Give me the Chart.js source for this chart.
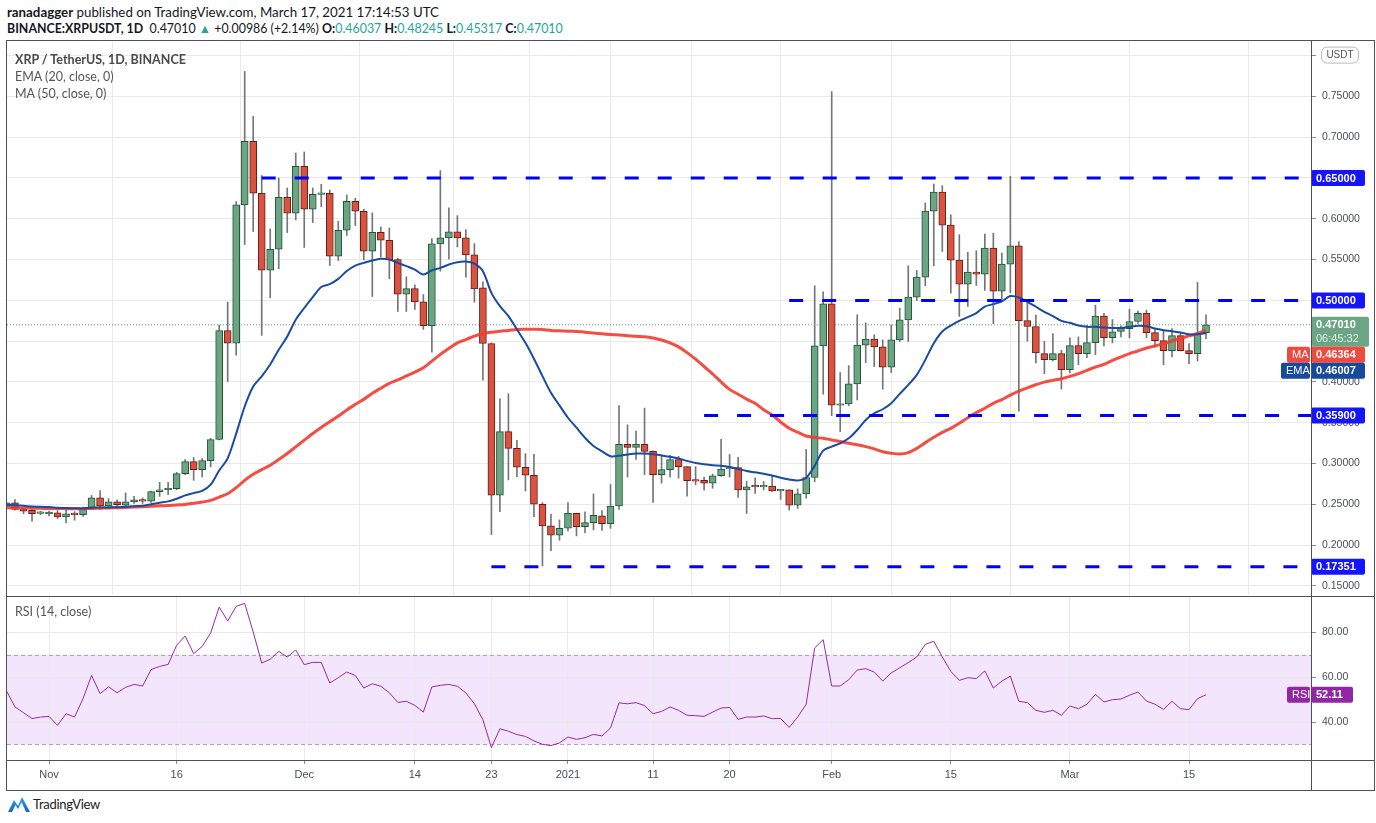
<!DOCTYPE html>
<html>
<head>
<meta charset="utf-8">
<script src="https://cdn.jsdelivr.net/npm/chart.js@4.4.1/dist/chart.umd.min.js"></script>
<style>
  html,body{margin:0;padding:0;background:#fff;}
  body{width:1376px;height:823px;position:relative;overflow:hidden;font-family:Lato,'Open Sans',sans-serif;color:#131722;}
  .t{position:absolute;white-space:nowrap;}
  #h1{left:7px;top:4px;font-size:13.3px;}
  #h2{left:7px;top:21px;font-size:12.4px;}
  .teal{color:#26a69a;}
  canvas{position:absolute;left:0;}
  #cv1{top:40px;}
  #cv2{top:596px;}
  .ln{position:absolute;background:#4d5059;}
  .lg{left:15px;font-size:12.5px;color:#555;}
  #logo{position:absolute;left:7px;top:795px;height:18px;}
  #logotxt{position:absolute;left:33px;top:796px;font-size:13px;color:#222;letter-spacing:-0.3px;}
</style>
</head>
<body>
<div class="t" id="h1"><b>ranadagger</b> published on TradingView.com, March 17, 2021 17:14:53 UTC</div>
<div class="t" id="h2"><b>BINANCE:XRPUSDT, 1D</b>&nbsp; 0.47010 <span class="teal">▲</span> +0.00986 (+2.14%) <b>O:</b><span class="teal">0.46037</span> <b>H:</b><span class="teal">0.48245</span> <b>L:</b><span class="teal">0.45317</span> <b>C:</b><span class="teal">0.47010</span></div>

<canvas id="cv1" width="1376" height="556"></canvas>
<canvas id="cv2" width="1376" height="195"></canvas>

<div class="t lg" style="top:52px;font-weight:bold;color:#4a4a4a;">XRP / TetherUS, 1D, BINANCE</div>
<div class="t lg" style="top:69px;">EMA (20, close, 0)</div>
<div class="t lg" style="top:86px;">MA (50, close, 0)</div>
<div class="t lg" style="top:604px;">RSI (14, close)</div>

<div class="ln" style="left:6px;top:40px;width:1369px;height:1px;"></div>
<div class="ln" style="left:6px;top:40px;width:1px;height:751px;"></div>
<div class="ln" style="left:6px;top:790px;width:1369px;height:1px;"></div>
<div class="ln" style="left:1374px;top:40px;width:1px;height:751px;"></div>
<div class="ln" style="left:1311px;top:40px;width:1px;height:751px;"></div>
<div class="ln" style="left:6px;top:596px;width:1369px;height:1px;"></div>
<div class="ln" style="left:6px;top:760px;width:1369px;height:1px;"></div>

<svg id="logo" width="24" height="18" viewBox="0 0 24 18">
  <defs><linearGradient id="g" x1="0" y1="0" x2="0" y2="1"><stop offset="0" stop-color="#2aa4f4"/><stop offset="1" stop-color="#1565c0"/></linearGradient></defs>
  <path d="M1 17 L7 5 L11 11 L15 2 L23 17 Z M5 17 L8.5 10 L11 14 L14.5 7 L19 17 Z" fill="url(#g)" fill-rule="evenodd"/>
</svg>
<div id="logotxt">TradingView</div>

<script>
// ---- data (day index 0 = 2020-10-27, last = 2021-03-17) ----
const open = [
  0.2475,0.2520,0.2447,0.2426,0.2390,
  0.2385,0.2398,0.2348,0.2393,0.2373,0.2443,0.2580,0.2480,0.2533,0.2492,
  0.2529,0.2557,0.2541,0.2656,0.2680,0.2693,0.2877,0.3025,0.2926,0.3037,
  0.3295,0.4630,0.4477,0.6170,0.6950,0.6313,0.5370,0.5627,0.6264,0.6068,
  0.6643,0.6117,0.6300,0.6313,0.5542,0.5860,0.6215,0.6092,0.5603,0.5835,
  0.5737,0.5500,0.5077,0.5145,0.4982,0.4689,0.5692,0.5766,0.5839,0.5766,
  0.5558,0.5153,0.4472,0.2612,0.3391,0.3187,0.2955,0.2857,0.2502,0.2237,0.2122,
  0.2208,0.2392,0.2228,0.2277,0.2360,0.2265,0.2480,0.3235,0.3198,0.3235,
  0.3149,0.2864,0.2926,0.3050,0.2963,0.2790,0.2794,0.2760,0.2851,0.2934,
  0.2950,0.2678,0.2720,0.2715,0.2723,0.2665,0.2678,0.2492,0.2628,0.2830,0.4443,
  0.4958,0.3715,0.3730,0.3977,0.4451,0.4525,0.4430,0.4181,0.4516,0.4762,
  0.5040,0.5285,0.6095,0.6328,0.5923,0.5494,0.5199,0.5347,0.5322,0.5641,
  0.5113,0.5445,0.5668,0.4753,0.4680,0.4348,0.4274,0.4348,
  0.4151,0.4446,0.4348,0.4483,0.4807,0.4544,0.4620,0.4655,0.4741,0.4840,
  0.4606,0.4507,0.4384,0.4569,0.4384,0.4348,0.46037
];
const high = [
  0.2525,0.2560,0.2455,0.2435,0.2415,
  0.2418,0.2425,0.2435,0.2410,0.2467,0.2610,0.2670,0.2570,0.2557,0.2640,
  0.2598,0.2580,0.2664,0.2770,0.2770,0.2893,0.3050,0.3075,0.3062,0.3310,
  0.4698,0.4980,0.6210,0.7806,0.7255,0.6530,0.5876,0.6500,0.6378,0.6806,
  0.6819,0.6378,0.6423,0.6353,0.5970,0.6292,0.6252,0.6117,0.6072,0.5900,
  0.5888,0.5517,0.5289,0.5190,0.5072,0.5757,0.6590,0.6133,0.6039,0.5868,
  0.5696,0.5227,0.4480,0.3795,0.3856,0.3285,0.3122,0.3114,0.2522,0.2380,0.2310,
  0.2522,0.2392,0.2408,0.2628,0.2425,0.2744,0.3710,0.3475,0.3400,0.3680,
  0.3157,0.3103,0.3100,0.3090,0.2963,0.2963,0.2835,0.2872,0.3297,0.3112,
  0.3078,0.2785,0.2826,0.2780,0.2843,0.2683,0.2678,0.2690,0.3173,0.5179,0.5105,
  0.7560,0.4116,0.4201,0.4823,0.4725,0.4578,0.4516,0.4700,0.4905,0.5424,
  0.5367,0.6193,0.6426,0.6406,0.6050,0.5805,0.5588,0.5608,0.5813,0.5825,
  0.5580,0.6520,0.5721,0.4983,0.4819,0.4499,0.4593,0.4389,
  0.4540,0.4553,0.4696,0.4942,0.4840,0.4766,0.4688,0.4893,0.4868,0.4880,
  0.4647,0.4635,0.4655,0.4602,0.4470,0.5221,0.48245
];
const low = [
  0.2465,0.2430,0.2385,0.2295,0.2375,
  0.2360,0.2324,0.2275,0.2307,0.2352,0.2435,0.2438,0.2455,0.2455,0.2460,
  0.2512,0.2512,0.2525,0.2598,0.2620,0.2680,0.2865,0.2795,0.2836,0.2960,
  0.3290,0.4005,0.4330,0.5684,0.5844,0.4570,0.5032,0.5387,0.5831,0.5986,
  0.5648,0.5954,0.6150,0.5427,0.5489,0.5795,0.5917,0.5497,0.5048,0.5533,
  0.5264,0.4864,0.4864,0.4888,0.4644,0.4366,0.5358,0.5509,0.5655,0.5284,
  0.4978,0.4023,0.2130,0.2412,0.2800,0.2840,0.2665,0.2351,0.1747,0.1934,0.2061,
  0.2175,0.2114,0.2155,0.2187,0.2180,0.2207,0.2438,0.2835,0.3050,0.2864,
  0.2525,0.2760,0.2835,0.2822,0.2600,0.2740,0.2674,0.2698,0.2843,0.2835,
  0.2587,0.2389,0.2636,0.2678,0.2660,0.2562,0.2430,0.2451,0.2575,0.2778,0.3850,
  0.3588,0.3392,0.3710,0.3780,0.4238,0.4189,0.3911,0.4116,0.4496,0.4496,
  0.4999,0.5179,0.5424,0.5600,0.5089,0.4803,0.4925,0.5183,0.5122,0.4713,
  0.4987,0.5094,0.3642,0.4499,0.4233,0.4101,0.4258,0.3913,
  0.4110,0.4212,0.4298,0.4335,0.4442,0.4479,0.4553,0.4540,0.4717,0.4540,
  0.4430,0.4212,0.4307,0.4380,0.4225,0.4257,0.45317
];
const close = [
  0.2520,0.2440,0.2418,0.2385,0.2393,
  0.2400,0.2348,0.2385,0.2373,0.2443,0.2580,0.2480,0.2533,0.2496,0.2533,
  0.2557,0.2541,0.2656,0.2680,0.2693,0.2877,0.3025,0.2926,0.3037,0.3295,
  0.4630,0.4477,0.6170,0.6950,0.6313,0.5370,0.5627,0.6264,0.6068,0.6643,
  0.6117,0.6300,0.6309,0.5542,0.5860,0.6215,0.6092,0.5603,0.5835,0.5737,
  0.5500,0.5077,0.5145,0.4982,0.4689,0.5692,0.5766,0.5839,0.5766,0.5558,
  0.5141,0.4472,0.2612,0.3391,0.3187,0.2955,0.2857,0.2502,0.2237,0.2122,0.2208,
  0.2392,0.2228,0.2277,0.2367,0.2265,0.2480,0.3235,0.3198,0.3235,0.3149,
  0.2864,0.2926,0.3050,0.2963,0.2790,0.2786,0.2760,0.2851,0.2934,0.2950,
  0.2678,0.2715,0.2715,0.2727,0.2665,0.2672,0.2492,0.2628,0.2830,0.4443,0.4958,
  0.3715,0.3730,0.3977,0.4451,0.4525,0.4430,0.4181,0.4516,0.4762,0.5040,
  0.5285,0.6095,0.6328,0.5923,0.5494,0.5199,0.5347,0.5322,0.5641,0.5113,
  0.5445,0.5668,0.4753,0.4680,0.4356,0.4274,0.4348,0.4151,
  0.4446,0.4348,0.4483,0.4807,0.4544,0.4614,0.4659,0.4741,0.4840,0.4606,
  0.4507,0.4384,0.4569,0.4384,0.4348,0.4594,0.47010
];
const ema20 = [
  0.2496,0.2490,0.2482,0.2475,0.2470,
  0.2467,0.2460,0.2455,0.2452,0.2451,0.2463,0.2462,0.2463,0.2466,0.2471,
  0.2478,0.2484,0.2502,0.2520,0.2537,0.2570,0.2610,0.2638,0.2666,0.2742,
  0.2915,0.3065,0.3368,0.3700,0.3945,0.4070,0.4215,0.4394,0.4558,0.4763,
  0.4907,0.5040,0.5165,0.5200,0.5264,0.5360,0.5427,0.5460,0.5490,0.5510,
  0.5500,0.5460,0.5420,0.5378,0.5317,0.5370,0.5398,0.5440,0.5467,0.5476,
  0.5450,0.5358,0.5092,0.4929,0.4807,0.4644,0.4480,0.4285,0.4072,0.3868,0.3713,
  0.3562,0.3440,0.3317,0.3216,0.3150,0.3090,0.3095,0.3111,0.3124,0.3124,
  0.3116,0.3100,0.3083,0.3062,0.3033,0.3008,0.2992,0.2980,0.2975,0.2959,
  0.2934,0.2909,0.2893,0.2876,0.2855,0.2827,0.2806,0.2793,0.2827,0.2975,0.3160,
  0.3208,0.3249,0.3310,0.3412,0.3535,0.3617,0.3666,0.3740,0.3854,0.3964,
  0.4087,0.4271,0.4475,0.4619,0.4692,0.4749,0.4795,0.4844,0.4925,0.4954,
  0.4987,0.5053,0.5036,0.4983,0.4922,0.4860,0.4807,0.4749,
  0.4725,0.4692,0.4676,0.4676,0.4667,0.4663,0.4663,0.4676,0.4688,0.4684,
  0.4655,0.4635,0.4622,0.4606,0.4585,0.4585,0.4601
];
const ma50 = [
  0.2460,0.2458,0.2456,0.2454,0.2452,
  0.2450,0.2449,0.2448,0.2447,0.2447,0.2450,0.2453,0.2456,0.2459,0.2462,
  0.2467,0.2472,0.2477,0.2482,0.2488,0.2494,0.2500,0.2514,0.2529,0.2550,
  0.2590,0.2631,0.2705,0.2795,0.2869,0.2926,0.2980,0.3049,0.3123,0.3205,
  0.3287,0.3369,0.3443,0.3513,0.3582,0.3656,0.3726,0.3787,0.3861,0.3923,
  0.3984,0.4025,0.4074,0.4120,0.4174,0.4255,0.4338,0.4410,0.4480,0.4520,
  0.4562,0.4595,0.4610,0.4623,0.4632,0.4644,0.4646,0.4646,0.4644,0.4631,0.4627,
  0.4623,0.4618,0.4611,0.4600,0.4590,0.4582,0.4575,0.4568,0.4560,0.4555,
  0.4540,0.4515,0.4480,0.4430,0.4360,0.4280,0.4190,0.4100,0.4000,0.3910,
  0.3850,0.3790,0.3740,0.3660,0.3596,0.3510,0.3433,0.3385,0.3338,0.3320,0.3310,
  0.3290,0.3270,0.3249,0.3230,0.3208,0.3180,0.3146,0.3128,0.3117,0.3134,
  0.3187,0.3257,0.3322,0.3383,0.3432,0.3494,0.3563,0.3625,0.3678,0.3739,
  0.3785,0.3840,0.3888,0.3929,0.3966,0.3999,0.4020,0.4040,
  0.4069,0.4102,0.4143,0.4184,0.4216,0.4266,0.4307,0.4348,0.4380,0.4417,
  0.4442,0.4470,0.4503,0.4532,0.4565,0.4594,0.4636
];
const rsi14 = [
  53.8,46.7,44.1,41.5,42.2,
  42.5,38.5,43.7,42.2,50.4,60.7,52.6,55.6,53.0,55.4,
  56.7,56.0,63.3,64.7,65.6,74.1,78.2,70.4,73.6,79.6,
  91.1,84.9,91.4,92.7,80.0,66.2,67.9,71.4,68.9,72.0,
  65.5,66.5,66.5,57.3,59.7,62.2,60.7,55.1,57.0,55.9,
  53.0,48.7,49.2,47.4,44.4,55.6,56.3,56.7,55.9,52.9,
  48.1,41.0,28.6,37.0,35.9,34.4,33.6,31.6,30.1,29.5,30.7,
  33.3,32.3,33.0,34.5,33.8,37.3,48.5,48.1,48.6,47.3,
  43.7,44.7,46.7,45.2,43.0,42.8,42.5,44.4,46.2,46.5,
  41.2,42.2,42.2,42.7,41.5,41.6,37.6,42.2,47.9,72.9,76.6,
  56.0,56.0,58.8,63.1,63.7,62.2,58.2,61.8,64.1,66.4,
  68.9,74.5,75.9,68.9,62.5,58.5,59.7,59.3,62.7,55.1,
  58.2,60.4,49.2,48.6,45.2,44.3,45.2,43.0,
  47.1,45.9,47.9,52.3,48.9,49.9,50.2,51.9,53.3,49.3,
  47.9,45.6,49.2,45.9,45.5,50.4,52.11
];
const tickDays   = [5, 20, 35, 48, 57, 66, 76, 85, 97, 111, 125, 139];
const tickLabels = ['Nov','16','Dec','14','23','2021','11','20','Feb','15','Mar','15'];
const priceTicks = [0.15,0.20,0.25,0.30,0.35,0.40,0.45,0.50,0.55,0.60,0.65,0.70,0.75,0.80];
const rsiTicks   = [40, 60, 80];
const levelValues   = [0.65, 0.50, 0.359, 0.17351];
const levelLabels   = ['0.65000','0.50000','0.35900','0.17351'];
const levelStartDay = [30, 92, 82, 57];
const lastPrice = 0.47010, lastMA = 0.46364, lastEMA = 0.46007, lastRSI = 52.11;
const countdown = '06:45:32';

// ---- view ranges ----
const X_MIN = 0.06, X_MAX = 153.34;
const P_MIN = 0.13897, P_MAX = 0.81789;
const R_MIN = 23.11, R_MAX = 95.56;

const GREEN = '#6ba583', GREEN_B = '#225437', RED = '#d75442', RED_B = '#6b1b16';
const GRID = '#e9e9ea';
const AXFONT = {family: "'Liberation Sans', Arial, sans-serif", size: 10.5};
const AXCOL = '#4a4e59';

function noPad(s) { s.paddingTop = 0; s.paddingBottom = 0; s.paddingLeft = 0; s.paddingRight = 0; }

function roundRect(ctx, x, y, w, h, r) {
  ctx.beginPath();
  ctx.moveTo(x + r, y);
  ctx.lineTo(x + w - r, y); ctx.quadraticCurveTo(x + w, y, x + w, y + r);
  ctx.lineTo(x + w, y + h - r); ctx.quadraticCurveTo(x + w, y + h, x + w - r, y + h);
  ctx.lineTo(x + r, y + h); ctx.quadraticCurveTo(x, y + h, x, y + h - r);
  ctx.lineTo(x, y + r); ctx.quadraticCurveTo(x, y, x + r, y);
  ctx.closePath();
}
function tag(ctx, x0, x1, yc, h, fill, text, col, bold) {
  ctx.save();
  ctx.fillStyle = fill;
  roundRect(ctx, x0, yc - h / 2, x1 - x0, h, 2);
  ctx.fill();
  ctx.fillStyle = col || '#fff';
  ctx.font = (bold === false ? '' : 'bold ') + "11px 'Liberation Sans', Arial, sans-serif";
  ctx.textBaseline = 'middle';
  ctx.textAlign = 'left';
  ctx.fillText(text, x0 + 5, yc + 0.5);
  ctx.restore();
}

const pricePlugin = {
  id: 'priceTags',
  afterDraw(chart) {
    const ctx = chart.ctx, y = chart.scales.y, ax = chart.chartArea.right;
    const yu = y.getPixelForValue(0.80);
    ctx.save();
    ctx.fillStyle = '#fff'; ctx.strokeStyle = '#b8bbc4'; ctx.lineWidth = 1;
    roundRect(ctx, ax + 10.5, yu - 8.5, 37, 16, 6); ctx.fill(); ctx.stroke();
    ctx.fillStyle = '#555'; ctx.font = "10px 'Liberation Sans', Arial, sans-serif";
    ctx.textAlign = 'center'; ctx.textBaseline = 'middle';
    ctx.fillText('USDT', ax + 29, yu);
    ctx.restore();
    levelValues.forEach((v, i) => {
      tag(ctx, ax, ax + 54, y.getPixelForValue(v), 16, '#1414ff', levelLabels[i]);
    });
    const yp = y.getPixelForValue(lastPrice);
    ctx.save();
    ctx.fillStyle = GREEN;
    roundRect(ctx, ax, yp - 8, 58, 30, 2); ctx.fill();
    ctx.fillStyle = '#fff'; ctx.font = "bold 11px 'Liberation Sans', Arial, sans-serif";
    ctx.textBaseline = 'middle'; ctx.textAlign = 'left';
    ctx.fillText(lastPrice.toFixed(5), ax + 5, yp + 0.5);
    ctx.fillStyle = '#dcefe4'; ctx.font = "11px 'Liberation Sans', Arial, sans-serif";
    ctx.fillText(countdown, ax + 5, yp + 14);
    ctx.restore();
    const yMA = yp + 30, yEMA = yp + 46;
    tag(ctx, ax - 24, ax - 1, yMA, 16, '#f04a3f', 'MA', '#fff', false);
    tag(ctx, ax, ax + 54, yMA, 16, '#f04a3f', lastMA.toFixed(5));
    tag(ctx, ax - 30, ax - 1, yEMA, 16, '#164a9c', 'EMA', '#fff', false);
    tag(ctx, ax, ax + 54, yEMA, 16, '#164a9c', lastEMA.toFixed(5));
  }
};

const rsiPlugin = {
  id: 'rsiBand',
  beforeDraw(chart) {
    const ctx = chart.ctx, y = chart.scales.y, a = chart.chartArea;
    const t = y.getPixelForValue(70), b = y.getPixelForValue(30);
    ctx.save();
    ctx.fillStyle = '#f3e6fc';
    ctx.fillRect(a.left, t, a.right - a.left, b - t);
    ctx.restore();
  },
  beforeDatasetsDraw(chart) {
    const ctx = chart.ctx, y = chart.scales.y, a = chart.chartArea;
    ctx.save();
    ctx.strokeStyle = '#a9a9b4'; ctx.lineWidth = 1; ctx.setLineDash([4, 3]);
    [70, 30].forEach(v => {
      const py = Math.round(y.getPixelForValue(v)) + 0.5;
      ctx.beginPath(); ctx.moveTo(a.left, py); ctx.lineTo(a.right, py); ctx.stroke();
    });
    ctx.restore();
  },
  afterDraw(chart) {
    const ctx = chart.ctx, y = chart.scales.y, ax = chart.chartArea.right;
    const yr = y.getPixelForValue(lastRSI);
    tag(ctx, ax - 24, ax - 1, yr, 16, '#9227a6', 'RSI', '#fff', false);
    tag(ctx, ax, ax + 42, yr, 16, '#9227a6', lastRSI.toFixed(2));
  }
};

const idx = open.map((_, i) => i);

const xGridOnly = {
  type: 'linear', min: X_MIN, max: X_MAX, offset: false,
  afterBuildTicks: s => { s.ticks = tickDays.map(v => ({value: v})); },
  ticks: {display: false},
  grid: {color: GRID, drawTicks: false},
  border: {display: false},
  afterFit: s => { s.height = 0; noPad(s); }
};

const levelSets = levelValues.map((v, i) => ({
  type: 'line',
  data: [{x: levelStartDay[i], y: v}, {x: X_MAX, y: v}],
  borderColor: '#0000ff', borderWidth: 3, borderDash: [14, 19],
  pointRadius: 0, order: 0
}));

new Chart(document.getElementById('cv1'), {
  type: 'bar',
  data: {
    datasets: [
      {
        type: 'line',
        data: [{x: X_MIN, y: lastPrice}, {x: X_MAX, y: lastPrice}],
        borderColor: '#5f9c7c', borderWidth: 1, borderDash: [1, 2],
        pointRadius: 0, order: 9
      },
      {
        type: 'bar',
        data: idx.map(i => ({x: i, y: [low[i], high[i]]})),
        backgroundColor: '#757678', barThickness: 1, grouped: false, order: 8
      },
      {
        type: 'bar',
        data: idx.map(i => ({x: i, y: [open[i], close[i]]})),
        backgroundColor: c => close[c.dataIndex] >= open[c.dataIndex] ? GREEN : RED,
        borderColor: c => close[c.dataIndex] >= open[c.dataIndex] ? GREEN_B : RED_B,
        borderWidth: 1, borderSkipped: false, barThickness: 7, minBarLength: 1.5,
        grouped: false, order: 7
      },
      {
        type: 'line',
        data: idx.map(i => ({x: i, y: ma50[i]})),
        borderColor: 'rgba(244,58,44,0.9)', borderWidth: 3, pointRadius: 0,
        tension: 0.3, order: 2
      },
      {
        type: 'line',
        data: idx.map(i => ({x: i, y: ema20[i]})),
        borderColor: '#1a4ba3', borderWidth: 2, pointRadius: 0,
        tension: 0.3, order: 1
      },
      ...levelSets
    ]
  },
  options: {
    responsive: false, animation: false, events: [],
    layout: {padding: {left: 7, right: 0, top: 1, bottom: 1}},
    plugins: {legend: {display: false}, tooltip: {enabled: false}},
    scales: {
      x: xGridOnly,
      y: {
        type: 'linear', position: 'right', min: P_MIN, max: P_MAX,
        afterBuildTicks: s => { s.ticks = priceTicks.map(v => ({value: v})); },
        ticks: {
          callback: v => Math.abs(v - 0.8) < 1e-6 ? '' : v.toFixed(5),
          font: AXFONT, color: AXCOL, padding: 6
        },
        grid: {color: GRID, tickColor: '#8a8d96', tickLength: 5},
        border: {display: false},
        afterFit: s => { s.width = 65; noPad(s); }
      }
    }
  },
  plugins: [pricePlugin]
});

new Chart(document.getElementById('cv2'), {
  type: 'line',
  data: {
    datasets: [{
      data: idx.map(i => ({x: i, y: rsi14[i]})),
      borderColor: '#9b27ad', borderWidth: 1, pointRadius: 0, tension: 0
    }]
  },
  options: {
    responsive: false, animation: false, events: [],
    layout: {padding: {left: 7, right: 0, top: 1, bottom: 1}},
    plugins: {legend: {display: false}, tooltip: {enabled: false}},
    scales: {
      x: {
        type: 'linear', min: X_MIN, max: X_MAX, offset: false,
        afterBuildTicks: s => { s.ticks = tickDays.map(v => ({value: v})); },
        ticks: {
          autoSkip: false, maxRotation: 0,
          callback: v => tickLabels[tickDays.indexOf(v)],
          font: {family: "'Liberation Sans', Arial, sans-serif", size: 11}, color: AXCOL, padding: 4
        },
        grid: {color: GRID, tickColor: '#8a8d96', tickLength: 4},
        border: {display: false},
        afterFit: s => { s.height = 30; noPad(s); }
      },
      y: {
        type: 'linear', position: 'right', min: R_MIN, max: R_MAX,
        afterBuildTicks: s => { s.ticks = rsiTicks.map(v => ({value: v})); },
        ticks: {callback: v => v.toFixed(2), font: AXFONT, color: AXCOL, padding: 6},
        grid: {color: GRID, tickColor: '#8a8d96', tickLength: 5},
        border: {display: false},
        afterFit: s => { s.width = 65; noPad(s); }
      }
    }
  },
  plugins: [rsiPlugin]
});
</script>
</body>
</html>
